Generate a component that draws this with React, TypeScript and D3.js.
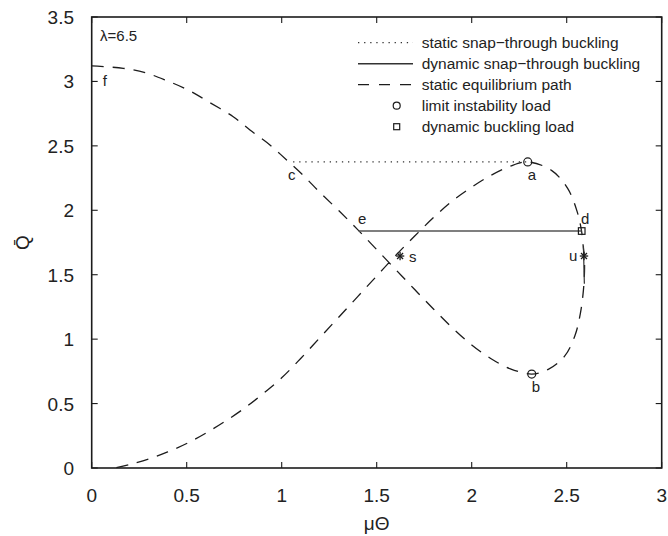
import React from "react";
import * as d3 from "d3";

const W = 668;
const H = 536;

const muTicks = [0, 0.5, 1, 1.5, 2, 2.5, 3];
const qTicks = [0, 0.5, 1, 1.5, 2, 2.5, 3, 3.5];

// static equilibrium path, one continuous curve [muTheta, Qbar]
const equilibriumPath: [number, number][] = [
  [0, 3.12], [0.166, 3.102], [0.281, 3.068], [0.395, 3.006], [0.508, 2.933],
  [0.623, 2.835], [0.745, 2.726], [0.833, 2.623], [0.938, 2.507], [1.026, 2.39],
  [1.114, 2.27], [1.2, 2.14], [1.3, 1.998], [1.4, 1.85], [1.5, 1.695],
  [1.6, 1.54], [1.7, 1.385], [1.8, 1.232], [1.9, 1.085], [2.0, 0.955],
  [2.1, 0.85], [2.2, 0.772], [2.316, 0.729],
  [2.403, 0.765], [2.49, 0.87], [2.544, 1.03], [2.572, 1.2], [2.588, 1.38],
  [2.594, 1.55], [2.592, 1.645], [2.587, 1.72], [2.578, 1.84], [2.555, 1.99],
  [2.505, 2.17], [2.42, 2.31], [2.295, 2.375], [2.2, 2.34], [2.1, 2.27],
  [2.0, 2.18], [1.9, 2.075], [1.8, 1.945], [1.7, 1.8], [1.6, 1.65],
  [1.5, 1.49], [1.4, 1.33], [1.3, 1.17], [1.2, 1.01], [1.1, 0.85],
  [1.0, 0.7], [0.9, 0.575], [0.8, 0.46], [0.7, 0.36], [0.6, 0.27],
  [0.5, 0.19], [0.4, 0.125], [0.3, 0.07], [0.2, 0.028], [0.12, 0.0],
];

const staticSnap: [number, number][] = [[1.06, 2.375], [2.295, 2.375]];
const dynamicSnap: [number, number][] = [[1.405, 1.839], [2.578, 1.839]];
const dynamicSnapU: [number, number][] = [[2.588, 1.72], [2.593, 1.43]];

const limitLoads: [number, number][] = [[2.295, 2.375], [2.316, 0.729]];
const dynamicLoads: [number, number][] = [[2.579, 1.839]];
const starPoints: [number, number][] = [[1.623, 1.645], [2.591, 1.645]];

const pointLabels: { t: string; mu: number; q: number }[] = [
  { t: "f", mu: 0.058, q: 2.964 },
  { t: "c", mu: 1.033, q: 2.235 },
  { t: "e", mu: 1.402, q: 1.894 },
  { t: "s", mu: 1.67, q: 1.599 },
  { t: "a", mu: 2.295, q: 2.235 },
  { t: "d", mu: 2.575, q: 1.894 },
  { t: "u", mu: 2.512, q: 1.606 },
  { t: "b", mu: 2.316, q: 0.59 },
  { t: "λ=6.5", mu: 0.044, q: 3.314 },
];

const legendItems = [
  "static snap\u2212through buckling",
  "dynamic snap\u2212through buckling",
  "static equilibrium path",
  "limit instability load",
  "dynamic buckling load",
];

const FONT = "'Liberation Sans', Arial, Helvetica, sans-serif";

export default function App() {
  const left = 91.7, right = 661.7, top = 17, bottom = 468;
  const x = d3.scaleLinear().domain([0, 3]).range([left, right]);
  const y = d3.scaleLinear().domain([0, 3.5]).range([bottom, top]);
  const line = d3.line<[number, number]>().x((d) => x(d[0])).y((d) => y(d[1]));
  const curve = d3
    .line<[number, number]>()
    .x((d) => x(d[0]))
    .y((d) => y(d[1]))
    .curve(d3.curveCatmullRom.alpha(0.5));

  const tickLen = 6;
  const ink = "#1c1c1c";

  const star = (cx: number, cy: number, r: number, key: string) => {
    const arms = [0, 45, 90, 135];
    return (
      <g key={key} stroke={ink} strokeWidth={1.3}>
        {arms.map((a) => {
          const rad = (a * Math.PI) / 180;
          return (
            <line
              key={a}
              x1={cx - r * Math.cos(rad)}
              y1={cy - r * Math.sin(rad)}
              x2={cx + r * Math.cos(rad)}
              y2={cy + r * Math.sin(rad)}
            />
          );
        })}
      </g>
    );
  };

  const legX0 = 358, legX1 = 413, legTextX = 421.7, legY0 = 42.7, legDy = 21;

  return (
    <svg
      width={W}
      height={H}
      viewBox={`0 0 ${W} ${H}`}
      style={{ position: "absolute", left: 0, top: 0, background: "#fff" }}
      fontFamily={FONT}
    >
      <rect x={0} y={0} width={W} height={H} fill="#fff" />

      {/* curves */}
      <path d={curve(equilibriumPath) || ""} fill="none" stroke={ink} strokeWidth={1.3} strokeDasharray="12,9" />
      <path d={line(staticSnap) || ""} fill="none" stroke="#333" strokeWidth={1.3} strokeDasharray="1.3,4.8" />
      <path d={line(dynamicSnap) || ""} fill="none" stroke="#555" strokeWidth={1.6} />
      <path d={line(dynamicSnapU) || ""} fill="none" stroke="#333" strokeWidth={1.2} />

      {/* markers */}
      {limitLoads.map((p, i) => (
        <circle key={"c" + i} cx={x(p[0])} cy={y(p[1])} r={4} fill="none" stroke={ink} strokeWidth={1.2} />
      ))}
      {dynamicLoads.map((p, i) => (
        <rect key={"s" + i} x={x(p[0]) - 3.3} y={y(p[1]) - 3.3} width={6.6} height={6.6} fill="none" stroke={ink} strokeWidth={1.2} />
      ))}
      {starPoints.map((p, i) => star(x(p[0]), y(p[1]), 4.2, "st" + i))}

      {/* point labels */}
      {pointLabels.map((l) => (
        <text key={l.t} x={x(l.mu)} y={y(l.q)} fontSize={15} fill="#222">
          {l.t}
        </text>
      ))}

      {/* frame */}
      <rect x={left} y={top} width={right - left} height={bottom - top} fill="none" stroke={ink} strokeWidth={1.6} />
      {muTicks.map((t) => (
        <g key={"xt" + t} stroke={ink} strokeWidth={1.1}>
          <line x1={x(t)} x2={x(t)} y1={bottom} y2={bottom - tickLen} />
          <line x1={x(t)} x2={x(t)} y1={top} y2={top + tickLen} />
        </g>
      ))}
      {qTicks.map((t) => (
        <g key={"yt" + t} stroke={ink} strokeWidth={1.1}>
          <line x1={left} x2={left + tickLen} y1={y(t)} y2={y(t)} />
          <line x1={right} x2={right - tickLen} y1={y(t)} y2={y(t)} />
        </g>
      ))}
      {muTicks.map((t) => (
        <text key={"xl" + t} x={x(t)} y={bottom + 34} fontSize={19} textAnchor="middle" fill="#222">
          {String(t)}
        </text>
      ))}
      {qTicks.map((t) => (
        <text key={"yl" + t} x={left - 17.7} y={y(t) + 7} fontSize={19} textAnchor="end" fill="#222">
          {String(t)}
        </text>
      ))}

      {/* axis labels */}
      <text x={(left + right) / 2} y={530} fontSize={19} textAnchor="middle" fill="#222">
        μΘ
      </text>
      <text transform={`translate(29, ${(top + bottom) / 2}) rotate(-90)`} fontSize={19} textAnchor="middle" fill="#222">
        Q̄
      </text>

      {/* legend */}
      {legendItems.map((t, i) => (
        <text key={t} x={legTextX} y={legY0 + i * legDy + 5.5} fontSize={15.5} fill="#222">
          {t}
        </text>
      ))}
      <line x1={legX0} x2={legX1} y1={legY0} y2={legY0} stroke="#333" strokeWidth={1.3} strokeDasharray="1.3,4.8" />
      <line x1={legX0} x2={legX1} y1={legY0 + legDy} y2={legY0 + legDy} stroke="#333" strokeWidth={1.5} />
      <line x1={legX0} x2={legX1} y1={legY0 + 2 * legDy} y2={legY0 + 2 * legDy} stroke={ink} strokeWidth={1.3} strokeDasharray="11,10" />
      <circle cx={396.7} cy={legY0 + 3 * legDy} r={3.5} fill="none" stroke={ink} strokeWidth={1.2} />
      <rect x={396.7 - 3} y={legY0 + 4 * legDy - 3} width={6} height={6} fill="none" stroke={ink} strokeWidth={1.2} />
    </svg>
  );
}
